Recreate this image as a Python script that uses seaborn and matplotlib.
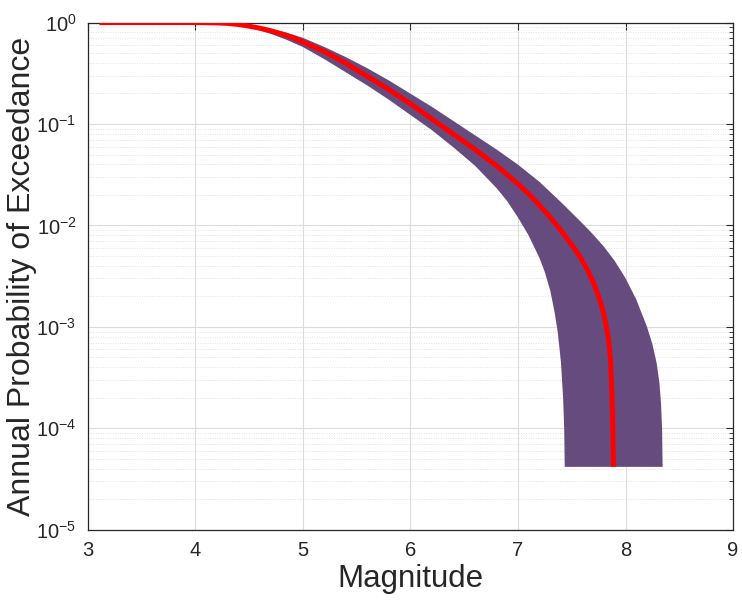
import matplotlib
matplotlib.use("Agg")
import matplotlib.pyplot as plt
import numpy as np
import pandas as pd
import seaborn as sns
from matplotlib.ticker import LogLocator, NullFormatter

# valores: magnitude e expoente log10 da probabilidade anual
# curva media
media_mag = [3.11, 4.00, 4.20, 4.30, 4.40, 4.50, 4.60, 4.70, 4.80, 4.90,
             5.00, 5.20, 5.40, 5.60, 5.80, 6.00, 6.20, 6.40, 6.60, 6.80,
             7.00, 7.10, 7.20, 7.30, 7.40, 7.50, 7.55, 7.60, 7.65, 7.70,
             7.75, 7.78, 7.81, 7.835, 7.85, 7.862, 7.872, 7.879, 7.884, 7.888]
media_log10 = [0.0, 0.0, -0.003, -0.008, -0.018, -0.035, -0.055, -0.08, -0.11, -0.145,
               -0.19, -0.285, -0.40, -0.53, -0.66, -0.80, -0.95, -1.10, -1.25, -1.41,
               -1.59, -1.69, -1.80, -1.92, -2.05, -2.19, -2.265, -2.35, -2.445, -2.56,
               -2.70, -2.80, -2.93, -3.07, -3.19, -3.35, -3.60, -3.85, -4.10, -4.38]

# limite inferior da faixa
inf_mag = [3.11, 4.10, 4.30, 4.50, 4.70, 4.85, 5.00, 5.20, 5.40, 5.60,
           5.80, 6.00, 6.20, 6.40, 6.60, 6.80, 6.90, 7.00, 7.10, 7.20,
           7.25, 7.30, 7.34, 7.37, 7.40, 7.42, 7.43, 7.435]
inf_log10 = [0.0, 0.0, -0.01, -0.045, -0.11, -0.17, -0.24, -0.36, -0.49, -0.62,
             -0.76, -0.91, -1.06, -1.23, -1.41, -1.63, -1.76, -1.92, -2.10, -2.32,
             -2.46, -2.64, -2.85, -3.05, -3.35, -3.70, -4.00, -4.38]

# limite superior da faixa
sup_mag = [3.11, 4.30, 4.50, 4.70, 4.85, 5.00, 5.20, 5.40, 5.60, 5.80,
           6.00, 6.20, 6.40, 6.60, 6.80, 7.00, 7.20, 7.40, 7.60, 7.70,
           7.80, 7.90, 8.00, 8.10, 8.20, 8.25, 8.29, 8.315, 8.33, 8.34, 8.345]
sup_log10 = [0.0, 0.0, -0.02, -0.06, -0.10, -0.15, -0.24, -0.34, -0.45, -0.57,
             -0.70, -0.83, -0.97, -1.11, -1.25, -1.40, -1.57, -1.77, -1.98, -2.09,
             -2.21, -2.35, -2.52, -2.73, -3.00, -3.17, -3.36, -3.55, -3.75, -4.00, -4.38]

x_ticks = [3, 4, 5, 6, 7, 8, 9]

sns.set_theme(style="white")
plt.rcParams["font.family"] = ["Liberation Sans", "DejaVu Sans"]
plt.rcParams["mathtext.fontset"] = "custom"
plt.rcParams["mathtext.rm"] = "Liberation Sans"

fig = plt.figure(figsize=(7.42, 6.02), dpi=100)
ax = fig.add_axes([0.118, 0.12, 0.870, 0.8425])

# faixa de incerteza
faixa_x = np.concatenate([inf_mag, sup_mag[::-1]])
faixa_y = 10.0 ** np.concatenate([inf_log10, sup_log10[::-1]])
ax.fill(faixa_x, faixa_y, color="#664c7e", linewidth=0, zorder=2)

media = pd.DataFrame({"Magnitude": media_mag, "Prob": 10.0 ** np.array(media_log10)})
sns.lineplot(data=media, x="Magnitude", y="Prob", sort=False, estimator=None,
             color="red", linewidth=3.6, solid_capstyle="butt",
             solid_joinstyle="round", ax=ax, zorder=3)

ax.set_yscale("log")
ax.set_xlim(3, 9)
ax.set_ylim(1e-5, 1.0)
ax.set_xticks(x_ticks)
ax.set_xticklabels([str(t) for t in x_ticks])
ax.yaxis.set_major_locator(LogLocator(base=10, numticks=10))
ax.yaxis.set_minor_locator(LogLocator(base=10, subs=np.arange(2, 10), numticks=20))
ax.yaxis.set_minor_formatter(NullFormatter())

ax.grid(True, which="major", axis="both", color="#dcdcdc", linewidth=0.8, zorder=0)
ax.grid(True, which="minor", axis="y", color="#e2e2e2", linewidth=0.7,
        linestyle=(0, (1, 1.5)), zorder=0)
ax.set_axisbelow(True)

ax.tick_params(axis="both", which="both", direction="in", top=True, right=True,
               colors="#262626", labelcolor="#262626", labelsize=14.5)
ax.tick_params(axis="both", which="major", length=5, width=0.8, pad=8)
ax.tick_params(axis="y", which="minor", length=3, width=0.6)
for s in ax.spines.values():
    s.set_color("#262626")
    s.set_linewidth(0.9)

ax.set_xlabel("Magnitude", fontsize=22.5, color="#262626")
ax.set_ylabel("Annual Probability of Exceedance", fontsize=23, color="#262626")
ax.xaxis.set_label_coords(0.5, -0.068)
ax.yaxis.set_label_coords(-0.078, 0.5)

fig.savefig("out.png", dpi=100, facecolor="white")
